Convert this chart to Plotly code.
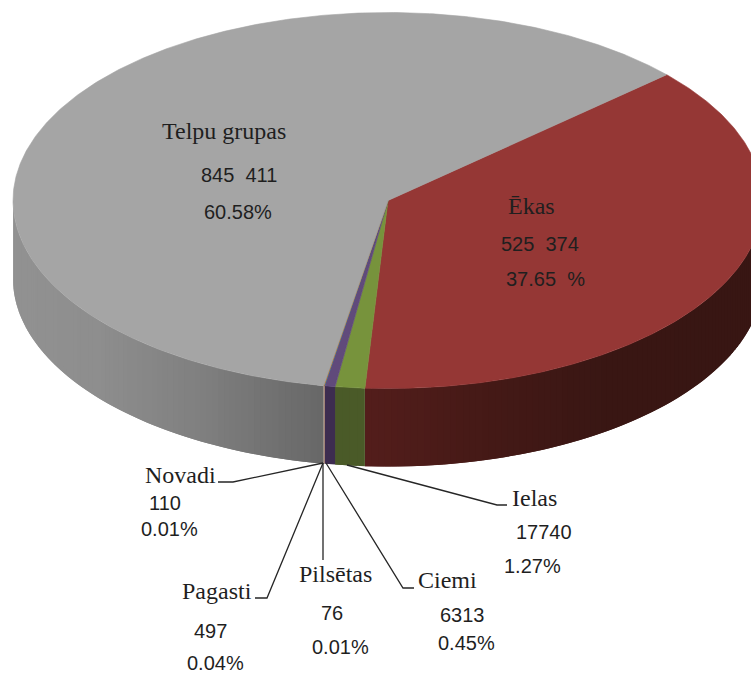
import numpy as np
import plotly.graph_objects as go

# Data, in clockwise order from the first slice
categories = ["Ēkas", "Ielas", "Ciemi", "Pilsētas", "Pagasti", "Novadi", "Telpu grupas"]
values = [525374, 17740, 6313, 76, 497, 110, 845411]
value_labels = ["525\u00a0\u00a0374", "17740", "6313", "76", "497", "110", "845\u00a0\u00a0411"]
percent_labels = ["37.65\u00a0\u00a0%", "1.27%", "0.45%", "0.01%", "0.04%", "0.01%", "60.58%"]

top_colors = ["#953735", "#77933c", "#604a7b", "#31859c", "#e46c0a", "#8c8c8c", "#a5a5a5"]

# Pie geometry in screen pixels
CX, CY, RX, RY, DEPTH = 388, 200.5, 375, 188, 78
START = 48.0


def side_color(name, x):
    anchors = {
        "Telpu grupas": ([13, 100, 200, 323], [(146, 146, 146), (142, 142, 142), (128, 128, 128), (104, 104, 104)]),
        "Ēkas": ([364, 480, 600, 751], [(84, 30, 28), (70, 26, 23), (58, 23, 20), (56, 22, 19)]),
        "Ielas": ([334, 364], [(74, 90, 40), (74, 90, 40)]),
        "Ciemi": ([324, 334], [(61, 44, 80), (61, 44, 80)]),
        "Pilsētas": ([324, 325], [(30, 85, 100), (30, 85, 100)]),
        "Pagasti": ([324, 325], [(150, 90, 50), (150, 90, 50)]),
        "Novadi": ([324, 325], [(100, 100, 100), (100, 100, 100)]),
    }
    xs, cols = anchors[name]
    c = [int(np.interp(x, xs, [k[i] for k in cols])) for i in range(3)]
    return "rgb(%d,%d,%d)" % tuple(c)


def px(t):
    return CX + RX * np.sin(np.radians(t))


def py(t):
    return CY - RY * np.cos(np.radians(t))


shares = np.array(values) / sum(values) * 360.0
starts = START + np.concatenate([[0], np.cumsum(shares)[:-1]])
ends = starts + shares

fig = go.Figure()


def poly(xs, ys, color, width=0.6):
    fig.add_trace(go.Scatter(x=xs, y=ys, mode="lines", fill="toself", fillcolor=color,
                             line=dict(color=color, width=width), hoverinfo="skip", showlegend=False))


# Rim, split into narrow bands for the shading; each band runs under the next one
for name, a, b in zip(categories, starts, ends):
    lo, hi = max(a, 90), min(b, 270)
    if hi <= lo:
        continue
    n = max(1, int((hi - lo) / 1.0))
    edges = np.linspace(lo, hi, n + 1)
    step = edges[1] - edges[0]
    for t0, t1 in zip(edges[:-1], edges[1:]):
        ts = np.linspace(t0, min(t1 + step, hi), 4)
        xs = px(ts)
        ys = py(ts)
        poly(list(xs) + list(xs[::-1]) + [xs[0]],
             list(ys) + list(ys[::-1] + DEPTH) + [ys[0]],
             side_color(name, float(px((t0 + t1) / 2))), width=0)

# Top face
for name, a, b, col in zip(categories, starts, ends, top_colors):
    ts = np.linspace(a, b, max(3, int((b - a) * 2)))
    poly([CX] + list(px(ts)) + [CX], [CY] + list(py(ts)) + [CY], col)

SERIF = "Liberation Serif"
SANS = "Liberation Sans"
INK = "#1f1f1f"


def label(x, y, text, font, size=20):
    fig.add_annotation(x=x, y=y, text=text, showarrow=False, xanchor="center", yanchor="middle",
                       font=dict(family=font, size=size, color=INK))


idx = {n: i for i, n in enumerate(categories)}
# (category, name xy, value xy, percent xy)
placements = [
    ("Telpu grupas", (224, 131), (239, 175), (238, 212)),
    ("Ēkas", (531, 206), (540, 244), (545, 279)),
    ("Ielas", (534, 498), (544, 532), (532, 566)),
    ("Ciemi", (447, 580), (462, 615), (466, 643)),
    ("Pilsētas", (335, 574), (332, 613), (340, 647)),
    ("Pagasti", (217, 591), (210, 631), (215, 663)),
    ("Novadi", (180, 475), (165, 503), (169, 529)),
]
for name, a, b, c in placements:
    i = idx[name]
    label(a[0], a[1], name, SERIF, 24)
    label(b[0], b[1], value_labels[i], SANS, 20)
    label(c[0], c[1], percent_labels[i], SANS, 20)

leaders = [
    [(218, 482), (233, 482), (323, 463)],
    [(255, 598), (267, 598), (323, 463)],
    [(323, 463), (323, 560)],
    [(326, 463), (403, 588), (414, 588)],
    [(347, 465), (497, 505), (507, 505)],
]
for pts in leaders:
    path = "M " + " L ".join("%g %g" % p for p in pts)
    fig.add_shape(type="path", path=path, line=dict(color="#262626", width=1.3), xref="x", yref="y", layer="above")

fig.update_layout(
    width=751, height=675, margin=dict(l=0, r=0, t=0, b=0), autosize=False,
    paper_bgcolor="white", plot_bgcolor="white", showlegend=False,
    xaxis=dict(range=[0, 751], visible=False, fixedrange=True),
    yaxis=dict(range=[675, 0], visible=False, fixedrange=True),
)
fig.write_html("out.html", config={"displayModeBar": False},
               post_script="document.body.style.margin='0';document.body.style.overflow='hidden';")
